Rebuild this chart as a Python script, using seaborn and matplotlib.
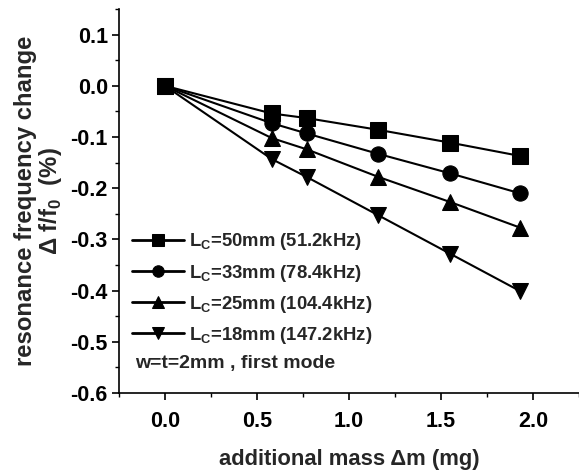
import matplotlib
matplotlib.use("Agg")
import matplotlib.pyplot as plt
import seaborn as sns
import pandas as pd
from matplotlib.ticker import MultipleLocator, FormatStrFormatter

# added mass (mg) and relative frequency shift (%) for each cantilever length
mass = [0.0, 0.58, 0.77, 1.16, 1.55, 1.93]
shift_50mm = [0.0, -0.054, -0.063, -0.086, -0.111, -0.137]
shift_33mm = [0.0, -0.073, -0.093, -0.133, -0.171, -0.210]
shift_25mm = [0.0, -0.102, -0.124, -0.178, -0.227, -0.277]
shift_18mm = [0.0, -0.143, -0.178, -0.253, -0.328, -0.401]

labels = [
    r"L$_\mathbf{C}$=50mm (51.2kHz)",
    r"L$_\mathbf{C}$=33mm (78.4kHz)",
    r"L$_\mathbf{C}$=25mm (104.4kHz)",
    r"L$_\mathbf{C}$=18mm (147.2kHz)",
]
markers = ["s", "o", "^", "v"]
series = [shift_50mm, shift_33mm, shift_25mm, shift_18mm]

sns.set_theme(style="ticks")
plt.rcParams["font.family"] = ["Liberation Sans", "DejaVu Sans"]
plt.rcParams["font.weight"] = "bold"
plt.rcParams["mathtext.fontset"] = "custom"
plt.rcParams["mathtext.rm"] = "Liberation Sans:bold"
plt.rcParams["mathtext.bf"] = "Liberation Sans:bold"

fig = plt.figure(figsize=(5.79, 4.75), dpi=100)
ax = fig.add_axes([0.2055, 0.1726, 0.7945, 0.8084])

for vals, lab, mk in zip(series, labels, markers):
    df = pd.DataFrame({"mass": mass, "shift": vals})
    sns.lineplot(data=df, x="mass", y="shift", ax=ax, color="black",
                 marker=mk, markersize=11, markeredgecolor="black",
                 markerfacecolor="black", linewidth=1.5, label=lab)

ax.set_xlim(-0.25, 2.25)
ax.set_ylim(-0.6, 0.15)
ax.xaxis.set_major_locator(MultipleLocator(0.5))
ax.xaxis.set_minor_locator(MultipleLocator(0.25))
ax.yaxis.set_major_locator(MultipleLocator(0.1))
ax.yaxis.set_minor_locator(MultipleLocator(0.05))
ax.xaxis.set_major_formatter(FormatStrFormatter("%.1f"))
ax.yaxis.set_major_formatter(FormatStrFormatter("%.1f"))

for s in ["top", "right"]:
    ax.spines[s].set_visible(False)
for s in ["left", "bottom"]:
    ax.spines[s].set_linewidth(1.2)
    ax.spines[s].set_color("black")

ax.tick_params(which="major", direction="out", length=5, width=1.2,
               labelsize=15.5, colors="black")
ax.tick_params(which="minor", direction="out", length=3, width=1.0,
               colors="black")
ax.tick_params(axis="x", which="major", pad=8)
ax.tick_params(axis="y", which="major", pad=3)
for t in ax.get_xticklabels() + ax.get_yticklabels():
    t.set_fontweight("bold")

ax.set_xlabel("additional mass Δm (mg)", fontsize=15.8, fontweight="bold",
              labelpad=12)
ax.set_ylabel("resonance frequency change\nΔ f/f$_\\mathbf{0}$  (%)",
              fontsize=17.2, fontweight="bold", labelpad=5, linespacing=1.0)

leg = ax.legend(loc="upper left", bbox_to_anchor=(0.012, 0.44),
                frameon=False, fontsize=13.3, handlelength=2.8,
                handletextpad=0.28, labelspacing=0.55, borderaxespad=0.0,
                markerscale=0.75)
for t in leg.get_texts():
    t.set_fontweight("bold")
for h in leg.legend_handles:
    h.set_linewidth(2.0)

ax.text(0.035, 0.078, "w=t=2mm , first mode", transform=ax.transAxes,
        fontsize=14, fontweight="bold", va="center", ha="left")

fig.savefig("out.png", dpi=100)
